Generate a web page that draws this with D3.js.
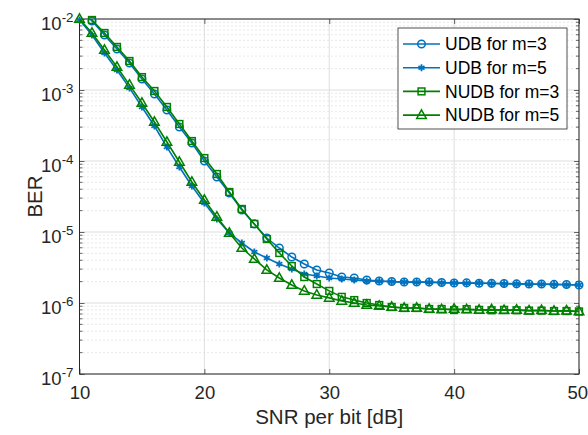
<!DOCTYPE html>
<html>
<head>
<meta charset="utf-8">
<script src="https://cdn.jsdelivr.net/npm/d3@7"></script>
<style>
  body { margin: 0; background: #fff; }
  svg { display: block; font-family: "Liberation Sans", Arial, sans-serif; }
</style>
</head>
<body>
<div id="chart"></div>
<script>

// data
const snrDb = [10, 11, 12, 13, 14, 15, 16, 17, 18, 19, 20, 21, 22, 23, 24, 25, 26, 27, 28, 29, 30,
    31, 32, 33, 34, 35, 36, 37, 38, 39, 40, 41, 42, 43, 44, 45, 46, 47, 48, 49, 50];

const udbM3 = [1.4e-2, 9.37e-3, 5.95e-3, 3.78e-3, 2.40e-3, 1.43e-3, 8.78e-4, 5.23e-4, 3.01e-4, 1.79e-4, 1.0e-4,
    5.95e-5, 3.54e-5, 2.04e-5, 1.30e-5, 8.23e-6, 5.95e-6, 4.44e-6, 3.54e-6, 2.92e-6, 2.65e-6,
    2.32e-6, 2.25e-6, 2.11e-6, 2.04e-6, 2.01e-6, 1.98e-6, 1.98e-6, 1.97e-6, 1.94e-6, 1.91e-6,
    1.92e-6, 1.90e-6, 1.89e-6, 1.88e-6, 1.86e-6, 1.85e-6, 1.85e-6, 1.83e-6, 1.82e-6, 1.79e-6];

const udbM5 = [9.7e-3, 5.95e-3, 3.32e-3, 1.91e-3, 1.07e-3, 5.77e-4, 3.11e-4, 1.57e-4, 8.23e-5, 4.44e-5, 2.56e-5,
    1.52e-5, 9.68e-6, 7.0e-6, 5.23e-6, 4.30e-6, 3.54e-6, 3.01e-6, 2.56e-6, 2.40e-6, 2.25e-6,
    2.18e-6, 2.11e-6, 2.04e-6, 2.02e-6, 1.99e-6, 1.97e-6, 1.96e-6, 1.96e-6, 1.93e-6, 1.91e-6,
    1.90e-6, 1.91e-6, 1.88e-6, 1.87e-6, 1.86e-6, 1.84e-6, 1.84e-6, 1.82e-6, 1.81e-6, 1.79e-6];

const nudbM3 = [1.5e-2, 9.68e-3, 6.35e-3, 4.04e-3, 2.56e-3, 1.52e-3, 9.68e-4, 5.77e-4, 3.32e-4, 1.91e-4, 1.10e-4,
    6.56e-5, 3.66e-5, 2.11e-5, 1.30e-5, 7.96e-6, 5.06e-6, 3.32e-6, 2.32e-6, 1.85e-6, 1.48e-6,
    1.22e-6, 1.10e-6, 1.0e-6, 9.37e-7, 8.78e-7, 8.51e-7, 8.51e-7, 8.23e-7, 8.23e-7, 7.96e-7,
    8.2e-7, 8.0e-7, 7.9e-7, 8.0e-7, 7.9e-7, 7.8e-7, 7.8e-7, 7.7e-7, 7.7e-7, 7.6e-7];

const nudbM5 = [1.0e-2, 6.35e-3, 3.66e-3, 2.11e-3, 1.18e-3, 6.56e-4, 3.54e-4, 1.85e-4, 9.68e-5, 5.06e-5, 2.82e-5,
    1.63e-5, 9.68e-6, 5.95e-6, 4.17e-6, 2.92e-6, 2.25e-6, 1.79e-6, 1.48e-6, 1.30e-6, 1.18e-6,
    1.07e-6, 1.0e-6, 9.37e-7, 9.08e-7, 8.78e-7, 8.51e-7, 8.51e-7, 8.23e-7, 8.1e-7, 8.23e-7,
    8.1e-7, 7.96e-7, 8.1e-7, 7.9e-7, 8.0e-7, 7.8e-7, 7.9e-7, 7.7e-7, 7.8e-7, 7.6e-7];

const seriesNames = ['UDB for m=3', 'UDB for m=5', 'NUDB for m=3', 'NUDB for m=5'];
const xTicks = [10, 20, 30, 40, 50];
const yTicks = [1e-7, 1e-6, 1e-5, 1e-4, 1e-3, 1e-2];


const w = 588;
const h = 435;
const m = { left: 79.5, right: 9, top: 19, bottom: 61 };

const blue = '#0072bd';
const green = '#008000';
const ink = '#262626';

const series = [
    { name: seriesNames[0], values: udbM3, color: blue, marker: 'circle' },
    { name: seriesNames[1], values: udbM5, color: blue, marker: 'star' },
    { name: seriesNames[2], values: nudbM3, color: green, marker: 'square' },
    { name: seriesNames[3], values: nudbM5, color: green, marker: 'triangle' }
];

const svg = d3.select('#chart').append('svg').attr('width', w).attr('height', h);

svg.append('rect').attr('width', w).attr('height', h).attr('fill', '#fff');

const xScale = d3.scaleLinear().domain([10, 50]).range([m.left, w - m.right]);
const yScale = d3.scaleLog().domain([1e-7, 1e-2]).range([h - m.bottom, m.top]);

// minor y values 2..9 per decade
const yMinor = [];
yTicks.slice(0, -1).forEach(t => {
    for (let k = 2; k <= 9; k++) yMinor.push(t * k);
});

// grid

const grid = svg.append('g');

grid.selectAll('.minor').data(yMinor).enter().append('line')
    .attr('x1', m.left).attr('x2', w - m.right)
    .attr('y1', d => yScale(d)).attr('y2', d => yScale(d))
    .attr('stroke', '#bdbdbd').attr('stroke-width', 0.7)
    .attr('stroke-dasharray', '1,3');

grid.selectAll('.ymaj').data(yTicks).enter().append('line')
    .attr('x1', m.left).attr('x2', w - m.right)
    .attr('y1', d => yScale(d)).attr('y2', d => yScale(d))
    .attr('stroke', '#dedede').attr('stroke-width', 1);

grid.selectAll('.xmaj').data(xTicks).enter().append('line')
    .attr('y1', m.top).attr('y2', h - m.bottom)
    .attr('x1', d => xScale(d)).attr('x2', d => xScale(d))
    .attr('stroke', '#dedede').attr('stroke-width', 1);


// axes

const fontTick = 18.5;

const xAxis = d3.axisBottom(xScale).tickValues(xTicks).tickSizeInner(-5).tickSizeOuter(0).tickPadding(12);
const gx = svg.append('g').attr('transform', `translate(0,${h - m.bottom})`).call(xAxis);
gx.selectAll('text').attr('font-size', fontTick).attr('fill', ink).attr('font-family', null);
// keep the last label inside the window
gx.selectAll('text').filter(d => d === 50).attr('text-anchor', 'end').attr('x', 8.5);

const xAxisTop = d3.axisTop(xScale).tickValues(xTicks).tickSizeInner(-5).tickSizeOuter(0).tickFormat('');
svg.append('g').attr('transform', `translate(0,${m.top})`).call(xAxisTop);

const yAxis = d3.axisLeft(yScale).tickValues(yTicks).tickSizeInner(-5).tickSizeOuter(0).tickPadding(6);
const gy = svg.append('g').attr('transform', `translate(${m.left},0)`).call(yAxis);
gy.selectAll('text').each(function (d) {
    const t = d3.select(this);
    t.text('').attr('font-size', fontTick).attr('fill', ink).attr('font-family', null).attr('dy', '0.55em');
    t.append('tspan').text('10');
    t.append('tspan').attr('dy', '-0.55em').attr('font-size', '0.72em').text(Math.round(Math.log10(d)));
});

const yAxisRight = d3.axisRight(yScale).tickValues(yTicks).tickSizeInner(-5).tickSizeOuter(0).tickFormat('');
svg.append('g').attr('transform', `translate(${w - m.right},0)`).call(yAxisRight);

// minor ticks left and right
const minorTicks = svg.append('g').attr('stroke', ink).attr('stroke-width', 0.7);
minorTicks.selectAll('.l').data(yMinor).enter().append('line')
    .attr('x1', m.left).attr('x2', m.left + 3)
    .attr('y1', d => yScale(d)).attr('y2', d => yScale(d));
minorTicks.selectAll('.r').data(yMinor).enter().append('line')
    .attr('x1', w - m.right).attr('x2', w - m.right - 3)
    .attr('y1', d => yScale(d)).attr('y2', d => yScale(d));

svg.selectAll('.domain').remove();
svg.selectAll('.tick line').attr('stroke', ink).attr('stroke-width', 0.7);

// box
svg.append('rect')
    .attr('x', m.left).attr('y', m.top)
    .attr('width', w - m.right - m.left).attr('height', h - m.bottom - m.top)
    .attr('fill', 'none').attr('stroke', ink).attr('stroke-width', 1);

// labels
svg.append('text')
    .attr('x', (m.left + w - m.right) / 2).attr('y', 424)
    .attr('text-anchor', 'middle').attr('font-size', 20.5).attr('fill', ink)
    .text('SNR per bit [dB]');

svg.append('text')
    .attr('transform', `translate(42,${(m.top + h - m.bottom) / 2}) rotate(-90)`)
    .attr('text-anchor', 'middle').attr('font-size', 20.5).attr('fill', ink)
    .text('BER');


// series

svg.append('clipPath').attr('id', 'plotclip').append('rect')
    .attr('x', m.left).attr('y', m.top)
    .attr('width', w - m.right - m.left).attr('height', h - m.bottom - m.top);

const line = d3.line().x(d => xScale(d[0])).y(d => yScale(d[1]));

function marker(sel, type, color) {
    if (type === 'circle') {
        sel.append('circle').attr('r', 3.8).attr('fill', 'none').attr('stroke', color).attr('stroke-width', 1.5);
    } else if (type === 'square') {
        sel.append('rect').attr('x', -3.4).attr('y', -3.4).attr('width', 6.8).attr('height', 6.8)
            .attr('fill', 'none').attr('stroke', color).attr('stroke-width', 1.5);
    } else if (type === 'triangle') {
        sel.append('path').attr('d', 'M0,-5.2L4.8,3.3L-4.8,3.3Z')
            .attr('fill', 'none').attr('stroke', color).attr('stroke-width', 1.5);
    } else {
        sel.append('path').attr('d', d3.symbol(d3.symbolAsterisk, 34)())
            .attr('fill', 'none').attr('stroke', color).attr('stroke-width', 1.8);
    }
}

series.forEach(s => {
    const pts = snrDb.map((x, i) => [x, s.values[i]]);
    const g = svg.append('g');
    g.append('path').datum(pts)
        .attr('clip-path', 'url(#plotclip)')
        .attr('fill', 'none').attr('stroke', s.color).attr('stroke-width', 1.6)
        .attr('d', line);
    g.selectAll('g.mk').data(pts.filter(p => p[1] <= 1.001e-2 && p[1] >= 1e-7)).enter().append('g')
        .attr('class', 'mk')
        .attr('transform', d => `translate(${xScale(d[0])},${yScale(d[1])})`)
        .each(function () { marker(d3.select(this), s.marker, s.color); });
});


// legend

const legend = svg.append('g').attr('transform', 'translate(398,28)');

legend.append('rect').attr('width', 169).attr('height', 101)
    .attr('fill', '#fff').attr('stroke', ink).attr('stroke-width', 0.8);

series.forEach((s, i) => {
    const y = 16 + i * 23.7;
    const row = legend.append('g').attr('transform', `translate(0,${y})`);
    row.append('line').attr('x1', 5).attr('x2', 42).attr('stroke', s.color).attr('stroke-width', 1.6);
    const mk = row.append('g').attr('transform', 'translate(23.5,0)');
    marker(mk, s.marker, s.color);
    row.append('text').attr('x', 47).attr('y', 0).attr('dy', '0.36em')
        .attr('font-size', 17.5).attr('fill', '#000').text(s.name);
});

</script>
</body>
</html>
